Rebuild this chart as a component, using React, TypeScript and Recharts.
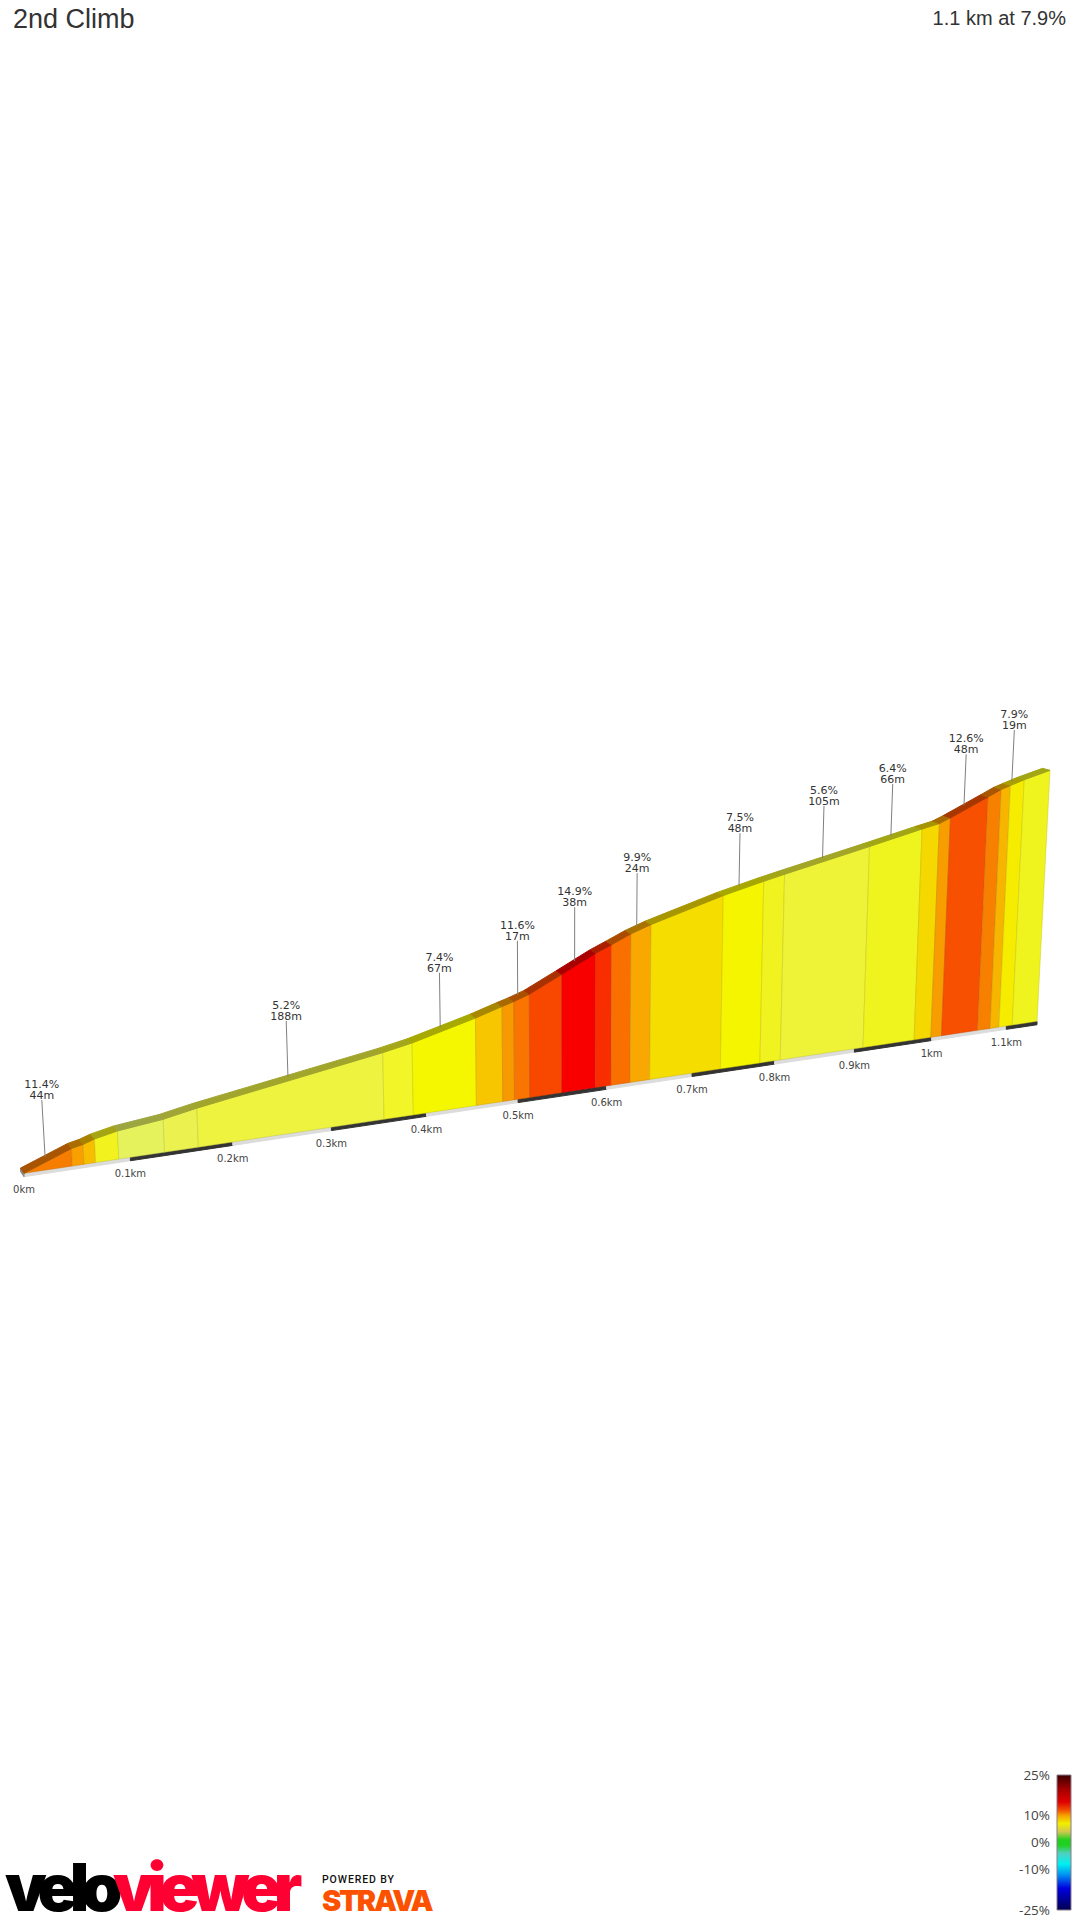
import { ScatterChart, Scatter, XAxis, YAxis, BarChart, Bar } from 'recharts';

// slice boundaries along the climb
const sliceKm = [0, 0.045, 0.056, 0.067, 0.089, 0.133, 0.166, 0.355, 0.386, 0.454, 0.483, 0.496, 0.513, 0.549, 0.587, 0.605, 0.627, 0.65, 0.734, 0.782, 0.807, 0.911, 0.977, 0.999, 1.013, 1.061, 1.078, 1.09, 1.108, 1.142];
const sliceElev = [0, 5.2, 5.9, 7, 8.4, 9.9, 11.8, 20.9, 22.7, 27.9, 30.5, 31.6, 33.3, 38.4, 43.9, 46.1, 48.9, 51.2, 58.1, 61.4, 63, 69.4, 73.6, 74.9, 76.5, 82.6, 84.8, 85.9, 87.5, 90];
const sliceColors = ['#f67d00', '#f9a000', '#f9bd00', '#f2f21e', '#e6f25c', '#ebf250', '#edf33f', '#f2f527', '#f5f700', '#f7c600', '#f79a00', '#f97400', '#f84800', '#f90000', '#f92e00', '#f97000', '#f8a800', '#f5dd00', '#f5f500', '#f0f31f', '#eef337', '#f0f41e', '#f5d800', '#f79d00', '#f75000', '#f78000', '#f7b500', '#f6ec00', '#f0f41e'];

const labelSlice = [1, 7, 9, 12, 14, 17, 19, 21, 22, 25, 28];
const labelGrades = ['11.4%', '5.2%', '7.4%', '11.6%', '14.9%', '9.9%', '7.5%', '5.6%', '6.4%', '12.6%', '7.9%'];
const labelLengths = ['44m', '188m', '67m', '17m', '38m', '24m', '48m', '105m', '66m', '48m', '19m'];

const tickKm = [0, 0.1, 0.2, 0.3, 0.4, 0.5, 0.6, 0.7, 0.8, 0.9, 1, 1.1];
const tickLabels = ['0km', '0.1km', '0.2km', '0.3km', '0.4km', '0.5km', '0.6km', '0.7km', '0.8km', '0.9km', '1km', '1.1km'];
const totalKm = 1.142;

const legendTicks = [25, 10, 0, -10, -25];
const legendStops: [number, string][] = [[25, '#3a0000'], [20, '#a00000'], [15, '#e00000'], [12, '#f05000'], [10, '#f8a000'], [7, '#f0f000'], [4, '#d0c850'], [1, '#20d020'], [-1, '#20d020'], [-4, '#50d0c0'], [-8, '#00f0f0'], [-12, '#0090f0'], [-17, '#0000e0'], [-25, '#000050']];

// perspective of the 3d view, fitted to the picture
const A = 1084.6;
const B = 0.195;
const S = 3.41;
const SKEW = 1.11e-4;

function project(km: number, elev: number, depth = 0, drop = 0) {
  const w = 1 + B * km;
  const u = (A * km) / w;
  const xb = 24 + u;
  const h = (elev * S) / w;
  return {
    x: xb + (xb - 570) * SKEW * h + depth * (-3.5 - 3.5 * km),
    y: 1173.3 - 0.15 * u - h + depth * (-5.2 + 2.8 * km) + drop,
  };
}

function darken(hex: string, f: number) {
  const n = parseInt(hex.slice(1), 16);
  const c = [n >> 16, (n >> 8) & 255, n & 255].map(v => Math.round(v * f));
  return `rgb(${c[0]},${c[1]},${c[2]})`;
}

function poly(key: string, points: { x: number; y: number }[], fill: string, stroke = fill, strokeOpacity = 1) {
  return (
    <Scatter
      key={key}
      data={points}
      shape={() => null}
      line={{ fill, stroke, strokeWidth: 1, strokeOpacity }}
      lineJointType="linearClosed"
      isAnimationActive={false}
      legendType="none"
    />
  );
}

export default function App() {
  const slices = sliceColors.map((c, i) =>
    poly(`s${i}`, [
      project(sliceKm[i], 0),
      project(sliceKm[i], sliceElev[i]),
      project(sliceKm[i + 1], sliceElev[i + 1]),
      project(sliceKm[i + 1], 0),
    ], c, darken(c, 0.8), 0.45)
  );
  const bands = sliceColors.map((c, i) =>
    poly(`b${i}`, [
      project(sliceKm[i], sliceElev[i]),
      project(sliceKm[i], sliceElev[i], 1),
      project(sliceKm[i + 1], sliceElev[i + 1], 1),
      project(sliceKm[i + 1], sliceElev[i + 1]),
    ], darken(c, 0.68))
  );
  const stripEnds = [...tickKm, totalKm];
  const strips = tickKm.map((km, i) =>
    poly(`t${i}`, [
      project(km, 0),
      project(stripEnds[i + 1], 0),
      project(stripEnds[i + 1], 0, 0, 3.4),
      project(km, 0, 0, 3.4),
    ], i % 2 === 0 ? '#dcdcdc' : '#333333')
  );
  const cap = poly('cap', [project(0, 0), project(0, 0, 1), project(0, 0, 1, 3.4), project(0, 0, 0, 3.4)], '#8a8a8a');

  const leaders = labelSlice.map((idx, i) => {
    const km = (sliceKm[idx - 1] + sliceKm[idx]) / 2;
    const elev = (sliceElev[idx - 1] + sliceElev[idx]) / 2;
    const rise = ((57 - 5.5 * km) * (1 + B * km)) / S;
    return { foot: project(km, elev, 0.75), top: project(km, elev + rise, 0.75), grade: labelGrades[i], len: labelLengths[i] };
  });
  const tickPoints = tickKm.map((km, i) => ({ ...project(km, 0), label: tickLabels[i] }));

  return (
    <div style={{ position: 'absolute', left: 0, top: 0, width: 1080, height: 1920, background: '#fff', overflow: 'hidden' }}>
      <ScatterChart width={1080} height={1920} margin={{ top: 0, right: 0, bottom: 0, left: 0 }}>
        <XAxis type="number" dataKey="x" domain={[0, 1080]} hide />
        <YAxis type="number" dataKey="y" domain={[0, 1920]} reversed hide />
        {strips}
        {cap}
        {slices}
        {bands}
        {leaders.map((l, i) => (
          <Scatter
            key={`l${i}`}
            data={[l.foot, l.top]}
            shape={() => null}
            line={{ stroke: '#7f7f7f', strokeWidth: 1 }}
            isAnimationActive={false}
            legendType="none"
          />
        ))}
        <Scatter
          data={leaders.map(l => ({ ...l.top, grade: l.grade, len: l.len }))}
          isAnimationActive={false}
          legendType="none"
          shape={(p: any) => (
            <text textAnchor="middle" fontFamily="DejaVu Sans" fontSize={11} fill="#333">
              <tspan x={p.cx} y={p.cy - 12}>{p.payload.grade}</tspan>
              <tspan x={p.cx} y={p.cy - 1}>{p.payload.len}</tspan>
            </text>
          )}
        />
        <Scatter
          data={tickPoints}
          isAnimationActive={false}
          legendType="none"
          shape={(p: any) => (
            <text x={p.cx} y={p.cy + 20} textAnchor="middle" fontFamily="DejaVu Sans" fontSize={10} fill="#444">
              {p.payload.label}
            </text>
          )}
        />
      </ScatterChart>

      <div style={{ position: 'absolute', left: 960, top: 1760 }}>
        <BarChart width={120} height={160} data={[{ name: 'grade', range: [-25, 25] }]} margin={{ top: 15, right: 9, bottom: 10, left: 0 }} barCategoryGap={0}>
          <defs>
            <linearGradient id="legendGrad" x1="0" y1="0" x2="0" y2="1">
              {legendStops.map(([g, c]) => (
                <stop key={g} offset={(25 - g) / 50} stopColor={c} />
              ))}
            </linearGradient>
          </defs>
          <XAxis dataKey="name" hide />
          <YAxis
            type="number"
            width={97}
            domain={[-25, 25]}
            ticks={legendTicks}
            interval={0}
            axisLine={false}
            tickLine={false}
            tickSize={0}
            tickMargin={7}
            tickFormatter={(v: number) => `${v}%`}
            tick={{ fontFamily: 'Open Sans', fontSize: 13.5, fill: '#444' }}
          />
          <Bar dataKey="range" fill="url(#legendGrad)" stroke="#8a7a8a" strokeWidth={1} isAnimationActive={false} />
        </BarChart>
      </div>

      <div style={{ position: 'absolute', left: 13, top: 4, fontFamily: 'Liberation Sans', fontSize: 27, color: '#333' }}>2nd Climb</div>
      <div style={{ position: 'absolute', right: 14, top: 7, fontFamily: 'Liberation Sans', fontSize: 20, color: '#333' }}>1.1 km at 7.9%</div>

      <svg width={1080} height={90} style={{ position: 'absolute', left: 0, top: 1830 }}>
        <text x={5} y={81} fontFamily="Inter" fontWeight={900} fontSize={66} letterSpacing={-8} fill="#000">velo</text>
        <text x={113} y={81} fontFamily="Inter" fontWeight={900} fontSize={66} letterSpacing={-7.4} fill="#ff0033">viewer</text>
        <text x={322} y={53} fontFamily="Roboto" fontWeight={500} fontSize={10.5} letterSpacing={0.9} fill="#111">POWERED BY</text>
        <text x={322} y={81} fontFamily="Inter" fontWeight={900} fontSize={29} letterSpacing={-2.2} fill="#fc5200">STRAVA</text>
      </svg>
    </div>
  );
}
